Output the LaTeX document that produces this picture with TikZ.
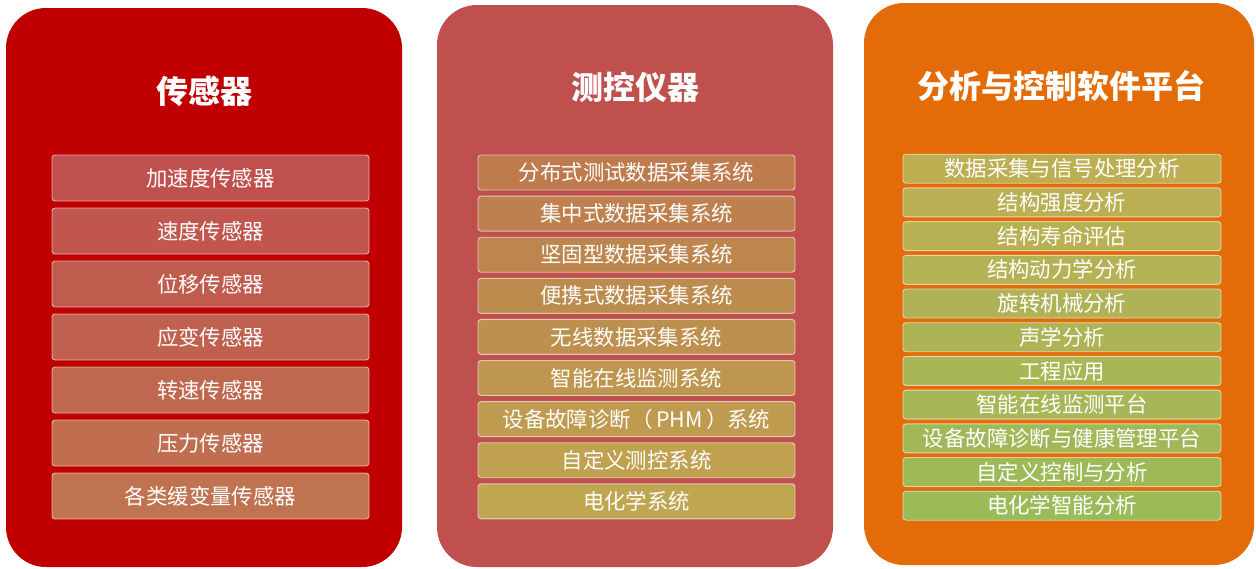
\documentclass[tikz,border=0pt]{standalone}
\usepackage{fontspec}
\setmainfont{Noto Sans CJK SC}
\definecolor{pA}{HTML}{C00000}
\definecolor{pB}{HTML}{C0504D}
\definecolor{pC}{HTML}{E36C09}
\definecolor{gA1}{HTML}{C0504D}
\definecolor{gA2}{HTML}{C07350}
\definecolor{gB1}{HTML}{BE7B4E}
\definecolor{gB2}{HTML}{BFA650}
\definecolor{gC1}{HTML}{BEAE52}
\definecolor{gC2}{HTML}{9BBB59}
\tikzset{
  panel/.style={rounded corners=40pt, draw=none},
  ptitle/.style={text=white, font=\bfseries\fontsize{32}{36}\selectfont, anchor=center},
  item/.style={rounded corners=3pt, draw=white, draw opacity=0.6, line width=0.9pt,
    text=white, font=\fontsize{21.4}{24}\selectfont, inner sep=0pt, anchor=center},
}
\begin{document}
\begin{tikzpicture}[x=1pt,y=-1pt]
\useasboundingbox[fill=white] (0,0) rectangle (1256,568);
% panels
\fill[pA, panel] (6,8) rectangle (402,567);
\fill[pB, panel] (437,5) rectangle (833,567);
\fill[pC, panel] (864,3) rectangle (1254,565);
\node[ptitle] (t1) at (204,91) {传感器};
\node[ptitle] (t2) at (635,87) {测控仪器};
\node[ptitle] (t3) at (1061,86) {分析与控制软件平台};
% panel 1 items
\foreach \txt [count=\i from 0] in {加速度传感器,速度传感器,位移传感器,应变传感器,转速传感器,压力传感器,各类缓变量传感器}{
  \pgfmathsetmacro{\pc}{100-100*\i/6}
  \node[item, fill=gA1!\pc!gA2, minimum width=317pt, minimum height=46pt]
    (a\i) at (210.5,{178+53*\i}) {\txt};
}
% panel 2 items
\foreach \txt [count=\i from 0] in {分布式测试数据采集系统,集中式数据采集系统,坚固型数据采集系统,便携式数据采集系统,无线数据采集系统,智能在线监测系统,设备故障诊断（\,PHM\,）系统,自定义测控系统,电化学系统}{
  \pgfmathsetmacro{\pc}{100-100*\i/8}
  \node[item, fill=gB1!\pc!gB2, minimum width=317pt, minimum height=35pt]
    (b\i) at (636.5,{172.5+41.1*\i}) {\txt};
}
% panel 3 items
\foreach \txt [count=\i from 0] in {数据采集与信号处理分析,结构强度分析,结构寿命评估,结构动力学分析,旋转机械分析,声学分析,工程应用,智能在线监测平台,设备故障诊断与健康管理平台,自定义控制与分析,电化学智能分析}{
  \pgfmathsetmacro{\pc}{100-100*\i/10}
  \node[item, fill=gC1!\pc!gC2, minimum width=318pt, minimum height=29pt]
    (c\i) at (1062,{168.7+33.7*\i}) {\txt};
}
\end{tikzpicture}
\end{document}
